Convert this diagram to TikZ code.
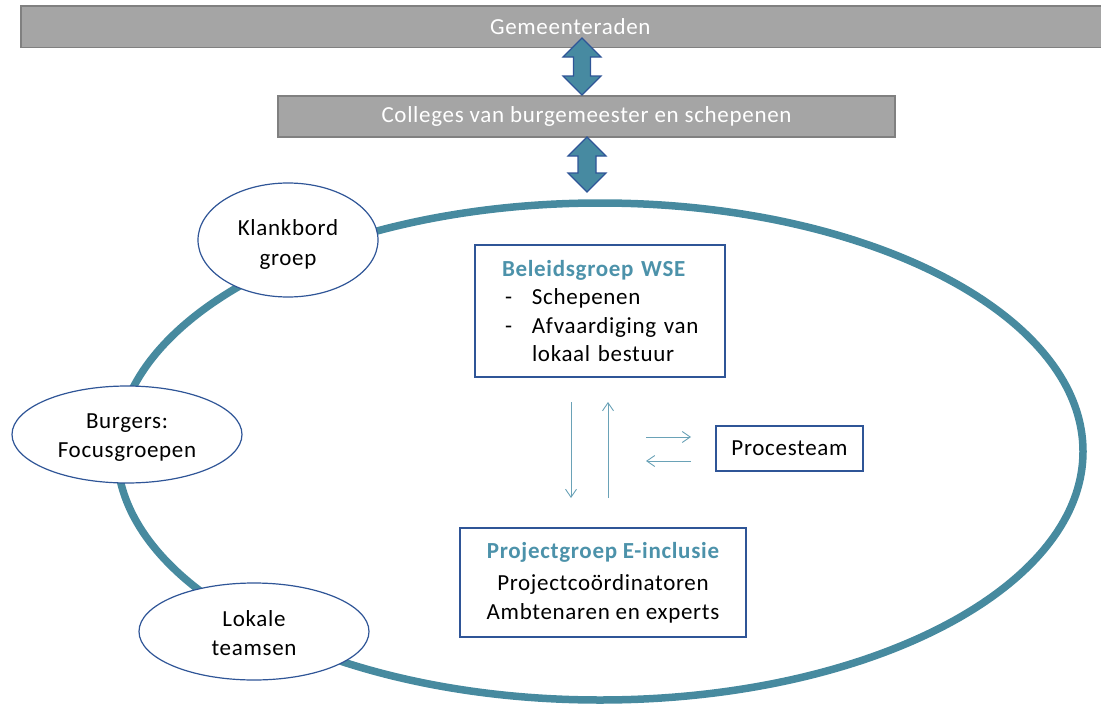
\documentclass[tikz,border=0pt]{standalone}
\usepackage{fontspec}
\setmainfont{Carlito}[LetterSpace=3]
\usetikzlibrary{arrows.meta,shapes.geometric}
\definecolor{barfill}{HTML}{A5A5A5}
\definecolor{barline}{HTML}{808080}
\definecolor{ringteal}{HTML}{478A9F}
\definecolor{arrfill}{HTML}{478AA1}
\definecolor{navy}{HTML}{2F5597}
\definecolor{titleteal}{HTML}{4C92AA}
\definecolor{thinteal}{HTML}{6AA2B7}
\newcommand{\ovaltext}[4]{\raisebox{#1}[\height][\depth]{\begin{tabular}{@{}c@{}}#2\\[#4]#3\end{tabular}}}
\tikzset{
  txt/.style={font=\fontsize{23}{28.5}\selectfont},
  graybar/.style={txt, draw=barline, line width=1.8pt, fill=barfill, text=white, inner sep=0pt},
  dblarr/.style={draw=navy, line width=1.1pt, fill=arrfill, line join=miter},
  ring/.style={draw=ringteal, line width=7.5pt, ellipse, inner sep=0pt},
  oval/.style={txt, draw=navy, line width=1.2pt, fill=white, ellipse, inner sep=0pt, align=center},
  framebox/.style={txt, draw=navy, line width=1.4pt, fill=white, inner sep=0pt},
  thinarr/.style={draw=thinteal, line width=0.9pt, -{Straight Barb[length=8pt,width=11pt,line width=0.9pt]}},
}
\begin{document}
\begin{tikzpicture}[x=1pt,y=-1pt]
\useasboundingbox (0,0) rectangle (1101,704);

% gray bars
\node[graybar, minimum width=1099pt, minimum height=41.5pt] (gem) at (570.3,26.8) {Gemeenteraden};
\node[graybar, minimum width=617pt, minimum height=41pt] (col) at (586.5,116.5) {Colleges van burgemeester en schepenen};

% big ring
\node[ring, minimum width=966pt, minimum height=497pt] (ringnode) at (600,451.5) {};

% double arrows
\draw[dblarr] (582,38) -- (601,57) -- (590.5,57) -- (590.5,76) -- (601,76) -- (582,95)
  -- (563,76) -- (573.5,76) -- (573.5,57) -- (563,57) -- cycle;
\draw[dblarr] (587,137) -- (606,156) -- (596,156) -- (596,173) -- (606,173) -- (587,192)
  -- (568,173) -- (578,173) -- (578,156) -- (568,156) -- cycle;

% small ellipses
\node[oval, minimum width=180pt, minimum height=114pt] (klank) at (288,240) {\ovaltext{-5pt}{Klankbord}{groep}{2pt}};
\node[oval, minimum width=230pt, minimum height=97pt] (burg) at (127,434.5) {\ovaltext{-3pt}{Burgers:}{Focusgroepen}{0pt}};
\node[oval, minimum width=230pt, minimum height=97pt] (lok) at (254,631.5) {\ovaltext{-3.5pt}{Lokale}{teamsen}{0.5pt}};

% boxes
\node[framebox, minimum width=250pt, minimum height=132pt, text width=250pt, align=left] (bel) at (600,311)
  {\hspace*{27pt}{\color{titleteal}\bfseries Beleidsgroep WSE}\\
   \hspace*{30pt}\makebox[27pt][l]{-}Schepenen\\
   \hspace*{30pt}\makebox[27pt][l]{-}Afvaardiging van\\
   \hspace*{57pt}lokaal bestuur};
\node[framebox, minimum width=286pt, minimum height=109pt, align=center] (proj) at (603,582.5)
  {{\color{titleteal}\bfseries Projectgroep E-inclusie}\\[4pt]
   Projectcoördinatoren\\
   Ambtenaren en experts};
\node[framebox, minimum width=147pt, minimum height=45pt] (proc) at (789.5,448.5) {Procesteam};

% thin arrows
\coordinate (dA) at (571,402);
\coordinate (dB) at (571,498);
\coordinate (uA) at (608,498);
\coordinate (uB) at (608,402);
\coordinate (rA) at (646,437);
\coordinate (rB) at (691,437);
\coordinate (lA) at (691,461);
\coordinate (lB) at (646,461);
\draw[thinarr] (dA) -- (dB);
\draw[thinarr] (uA) -- (uB);
\draw[thinarr] (rA) -- (rB);
\draw[thinarr] (lA) -- (lB);
\end{tikzpicture}
\end{document}
